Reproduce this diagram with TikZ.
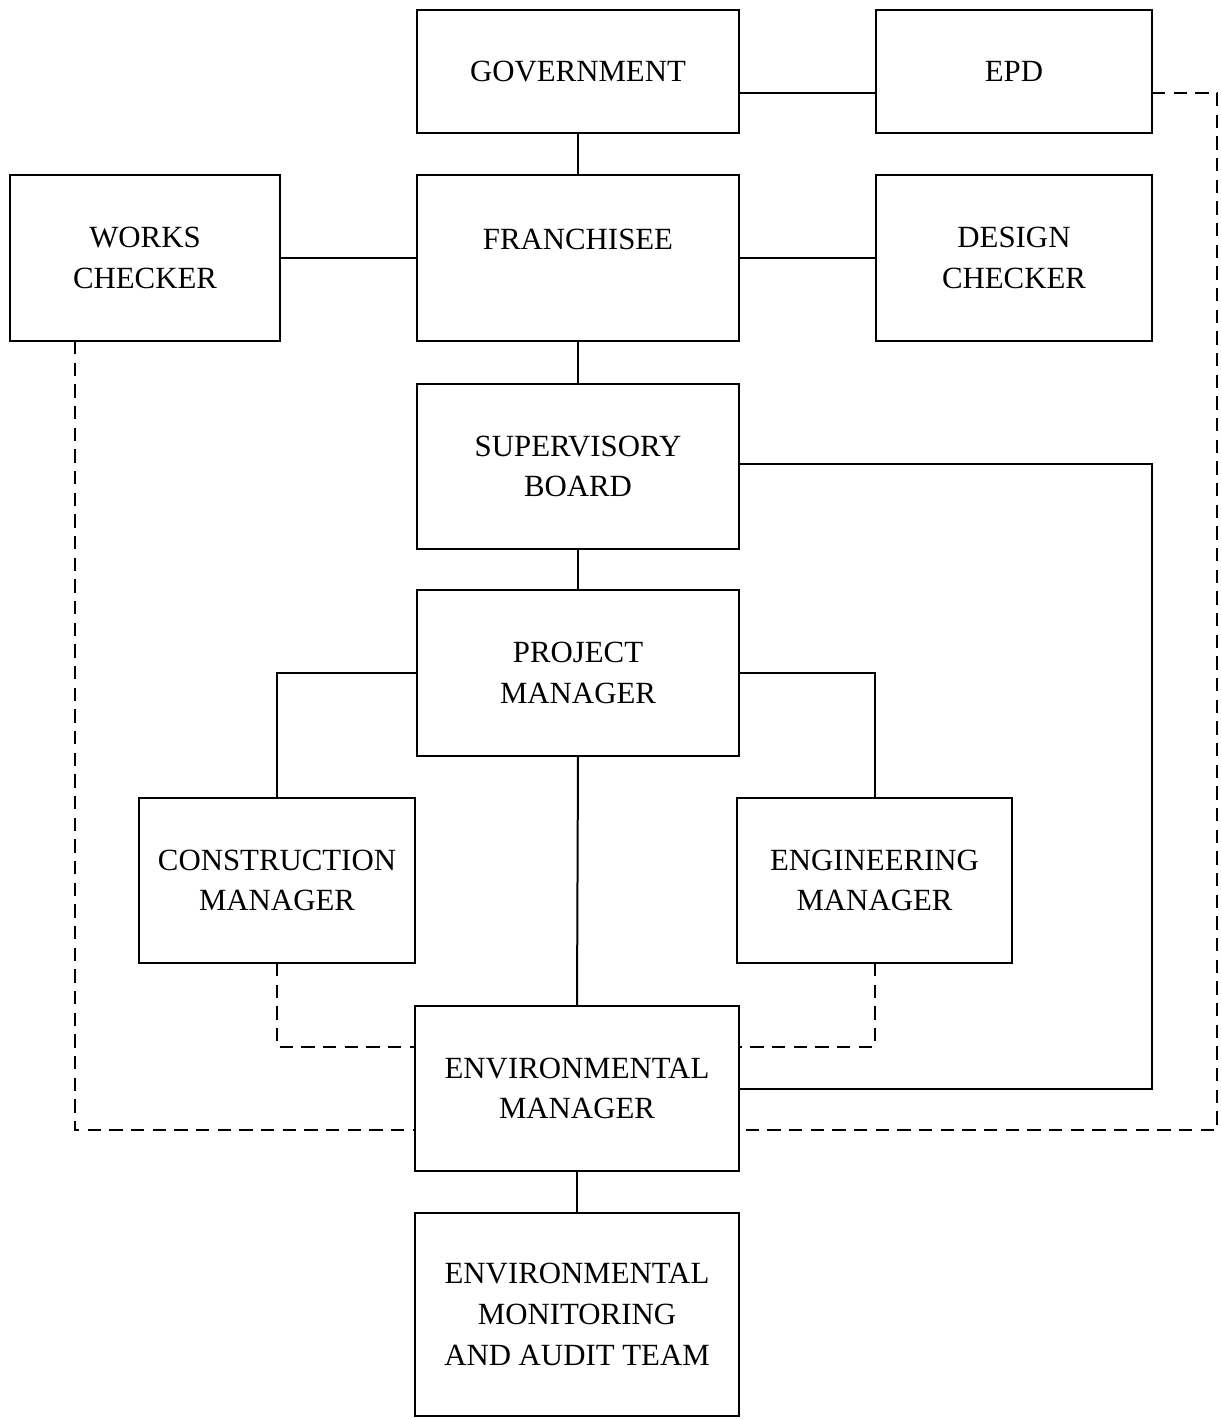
\documentclass[tikz,border=0pt]{standalone}
\usepackage{fontspec}
\setmainfont{Liberation Serif}
\begin{document}
\begin{tikzpicture}[x=0.6pt,y=-0.6pt,
  orgbox/.style={draw,line width=1.3pt,align=center,inner sep=0pt,outer sep=0pt,
    font=\fontsize{18.5}{24.5}\selectfont},
  link/.style={line width=1.2pt},
  dlink/.style={line width=1.2pt,dash pattern=on 8pt off 5pt}]
\useasboundingbox (0,0) rectangle (1221,1419);

% organisation boxes
\node[orgbox,minimum width=193.2pt,minimum height=73.8pt] (gov) at (578,71.5) {GOVERNMENT};
\node[orgbox,minimum width=165.6pt,minimum height=73.8pt] (epd) at (1014,71.5) {EPD};
\node[orgbox,minimum width=162pt,minimum height=99.6pt] (works) at (145,258) {WORKS\\CHECKER};
\node[orgbox,minimum width=193.2pt,minimum height=99.6pt] (fran) at (578,258) {FRANCHISEE\\[-9.6pt]\strut};
\node[orgbox,minimum width=165.6pt,minimum height=99.6pt] (design) at (1014,258) {DESIGN\\CHECKER};
\node[orgbox,minimum width=193.2pt,minimum height=99pt] (sup) at (578,466.5) {SUPERVISORY\\BOARD};
\node[orgbox,minimum width=193.2pt,minimum height=99.6pt] (pm) at (578,673) {PROJECT\\MANAGER};
\node[orgbox,minimum width=165.6pt,minimum height=99pt] (cm) at (277,880.5) {CONSTRUCTION\\MANAGER};
\node[orgbox,minimum width=165pt,minimum height=99pt] (eng) at (874.5,880.5) {ENGINEERING\\MANAGER};
\node[orgbox,minimum width=194.4pt,minimum height=99pt] (em) at (577,1088.5) {ENVIRONMENTAL\\MANAGER};
\node[orgbox,minimum width=194.4pt,minimum height=121.8pt] (emat) at (577,1314.5) {ENVIRONMENTAL\\MONITORING\\AND AUDIT TEAM};

% turning points of the outer connectors
\coordinate (rsolid) at (1152,0);
\coordinate (rdash) at (1217,0);

% solid reporting lines
\draw[link] ([yshift=-12.9pt]gov.east) -- ([yshift=-12.9pt]epd.west);
\draw[link] (gov.south) -- (fran.north);
\draw[link] (works.east) -- (fran.west);
\draw[link] (fran.east) -- (design.west);
\draw[link] (fran.south) -- (sup.north);
\draw[link] (sup.south) -- (pm.north);
\draw[link] ([yshift=1.5pt]sup.east) -| (rsolid |- em.east) -- (em.east);
\draw[link] (pm.west) -| (cm.north);
\draw[link] (pm.east) -| (eng.north);
\draw[link] (pm.south) -- (em.north);
\draw[link] (em.south) -- (emat.north);

% dashed communication lines
\draw[dlink] ([yshift=-12.9pt]epd.east) -| ([yshift=-24.9pt]rdash |- em.east) -- ([yshift=-24.9pt]em.east);
\draw[dlink] ([xshift=-42pt]works.south) |- ([yshift=-24.9pt]em.west);
\draw[dlink] (cm.south) |- ([yshift=24.9pt]em.west);
\draw[dlink] (eng.south) |- ([yshift=24.9pt]em.east);
\end{tikzpicture}
\end{document}
